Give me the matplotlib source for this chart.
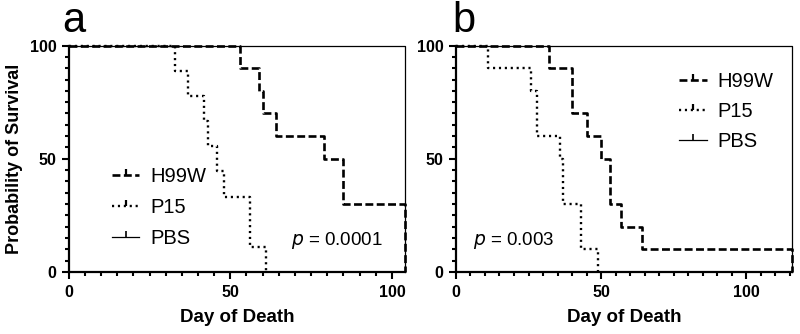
import matplotlib
matplotlib.use("Agg")
import matplotlib.pyplot as plt
from matplotlib.lines import Line2D
from matplotlib.path import Path
from matplotlib.ticker import MultipleLocator

plt.rcParams["font.family"] = ["Liberation Sans", "DejaVu Sans"]

# panel a
H99W_A_DAYS = [0, 53, 59, 60, 64, 79, 85, 104]
H99W_A_SURV = [100, 90, 80, 70, 60, 50, 30, 0]
P15_A_DAYS = [0, 33, 37, 42, 43, 46, 48, 56, 61]
P15_A_SURV = [100, 88.9, 77.8, 66.7, 55.6, 44.4, 33.3, 11.1, 0]
PBS_A_DAYS = [0, 104]
PBS_A_SURV = [100, 0]

# panel b
H99W_B_DAYS = [0, 32, 40, 45, 50, 53, 57, 64, 116]
H99W_B_SURV = [100, 90, 70, 60, 50, 30, 20, 10, 0]
P15_B_DAYS = [0, 11, 26, 28, 36, 37, 43, 49]
P15_B_SURV = [100, 90, 80, 60, 50, 30, 10, 0]
PBS_B_DAYS = [0, 116]
PBS_B_SURV = [100, 0]

LABELS = ["H99W", "P15", "PBS"]
P_VALUES = ["0.0001", "0.003"]

DASH = (0, (3, 1.3))
DOT = (0, (0.9, 1.6))
TICK = Path([(0, 0), (0, 1)], [Path.MOVETO, Path.LINETO])


def style_axes(ax, xmax):
    ax.set_xlim(0, xmax)
    ax.set_ylim(0, 100)
    for s in ("top", "right"):
        ax.spines[s].set_visible(False)
    for s in ("left", "bottom"):
        ax.spines[s].set_linewidth(1.6)
    ax.xaxis.set_major_locator(MultipleLocator(50))
    ax.xaxis.set_minor_locator(MultipleLocator(5))
    ax.yaxis.set_major_locator(MultipleLocator(50))
    ax.yaxis.set_minor_locator(MultipleLocator(5))
    ax.tick_params(which="major", direction="out", length=5, width=1.5,
                   labelsize=11.5, pad=4)
    ax.tick_params(which="minor", direction="out", length=3.2, width=1.5)
    for t in ax.get_xticklabels() + ax.get_yticklabels():
        t.set_fontweight("bold")
    ax.set_xlabel("Day of Death", fontsize=13.5, fontweight="bold", labelpad=7)


def draw(ax, h_days, h_surv, p_days, p_surv, b_days, b_surv):
    ax.step(b_days, b_surv, where="post", color="black", lw=0.9,
            clip_on=False, zorder=4)
    ax.step(h_days, h_surv, where="post", color="black", lw=1.9,
            linestyle=DASH, clip_on=False, zorder=3)
    ax.step(p_days, p_surv, where="post", color="black", lw=1.7,
            linestyle=DOT, clip_on=False, zorder=3)


def legend_handles():
    return [
        Line2D([], [], color="black", lw=1.9, linestyle=DASH, marker=TICK,
               markersize=9, markeredgewidth=1.6),
        Line2D([], [], color="black", lw=1.7, linestyle=DOT, marker=TICK,
               markersize=9, markeredgewidth=1.6),
        Line2D([], [], color="black", lw=0.9, marker=TICK,
               markersize=9, markeredgewidth=1.2),
    ]


fig = plt.figure(figsize=(8, 3.34), dpi=100)
ax_a = fig.add_axes([0.086, 0.1856, 0.42, 0.678])
ax_b = fig.add_axes([0.570, 0.1856, 0.4205, 0.678])

draw(ax_a, H99W_A_DAYS, H99W_A_SURV, P15_A_DAYS, P15_A_SURV, PBS_A_DAYS, PBS_A_SURV)
draw(ax_b, H99W_B_DAYS, H99W_B_SURV, P15_B_DAYS, P15_B_SURV, PBS_B_DAYS, PBS_B_SURV)
style_axes(ax_a, 104)
style_axes(ax_b, 116)
ax_a.set_ylabel("Probability of Survival", fontsize=13, fontweight="bold", labelpad=5)

ax_a.legend(legend_handles(), LABELS, loc="center left", bbox_to_anchor=(0.105, 0.285),
            frameon=False, fontsize=14.5, handlelength=1.35, handletextpad=0.55,
            labelspacing=0.6, numpoints=1, borderaxespad=0)
ax_b.legend(legend_handles(), LABELS, loc="center left", bbox_to_anchor=(0.64, 0.71),
            frameon=False, fontsize=14.5, handlelength=1.35, handletextpad=0.55,
            labelspacing=0.55, numpoints=1, borderaxespad=0)

ax_a.text(0.935, 0.14, "$\\it{p}$ = " + P_VALUES[0], transform=ax_a.transAxes,
          ha="right", va="center", fontsize=13.5)
ax_b.text(0.05, 0.14, "$\\it{p}$ = " + P_VALUES[1], transform=ax_b.transAxes,
          ha="left", va="center", fontsize=13.5)

fig.text(62 / 800, 1 - 21 / 334, "a", fontsize=30, ha="left", va="center")
fig.text(452 / 800, 1 - 21 / 334, "b", fontsize=30, ha="left", va="center")

fig.savefig("out.png", dpi=100)
